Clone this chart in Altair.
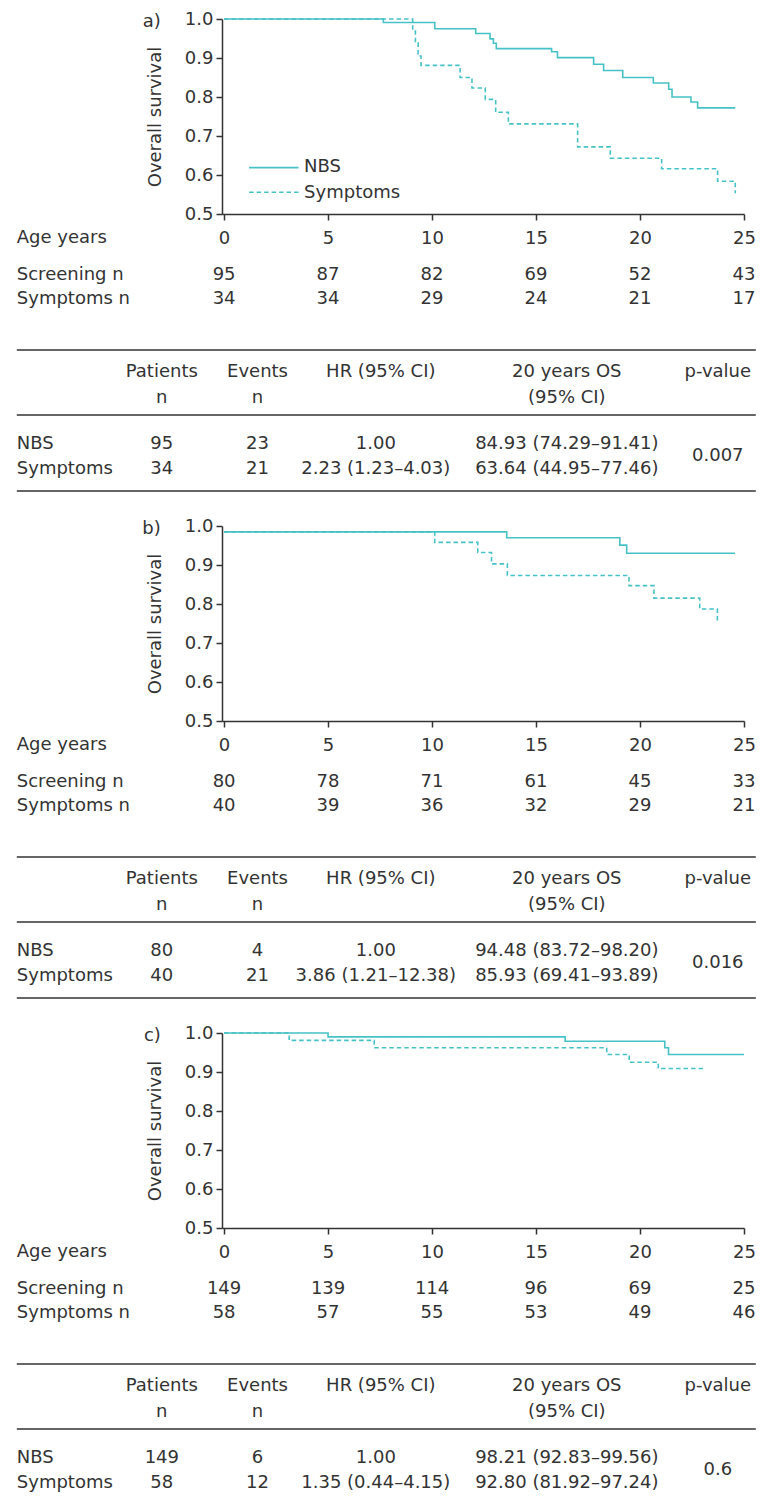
import altair as alt
import pandas as pd

# ---------------- data ----------------
YEARS = [0, 5, 10, 15, 20, 25]
SURV_TICKS = [0.5, 0.6, 0.7, 0.8, 0.9, 1.0]
GROUPS = ["NBS", "Symptoms"]
RISK_LABELS = ["Age years", "Screening n", "Symptoms n"]
HEAD_1 = ["Patients", "Events", "HR (95% CI)", "20 years OS", "p-value"]
HEAD_2 = ["n", "n", "", "(95% CI)", ""]
PANEL_TAGS = ["a)", "b)", "c)"]

# panel a
A_NBS_T = [0, 7.66, 10.13, 12.10, 12.79, 12.95, 13.09, 15.75, 16.03, 17.77, 18.25, 19.17, 20.64, 21.38, 21.54, 22.45, 22.77, 24.58]
A_NBS_S = [1.0, 0.991, 0.975, 0.963, 0.949, 0.938, 0.924, 0.916, 0.901, 0.884, 0.868, 0.850, 0.836, 0.820, 0.800, 0.787, 0.772, 0.772]
A_SYM_T = [0, 9.07, 9.20, 9.33, 9.47, 11.35, 11.92, 12.56, 13.06, 13.67, 17.00, 18.57, 21.04, 23.73, 24.58]
A_SYM_S = [1.0, 0.969, 0.939, 0.905, 0.881, 0.850, 0.823, 0.794, 0.761, 0.731, 0.672, 0.643, 0.616, 0.584, 0.553]
A_SCREEN_N = [95, 87, 82, 69, 52, 43]
A_SYMPT_N = [34, 34, 29, 24, 21, 17]
A_PATIENTS = ["95", "34"]
A_EVENTS = ["23", "21"]
A_HR = ["1.00", "2.23 (1.23–4.03)"]
A_OS = ["84.93 (74.29–91.41)", "63.64 (44.95–77.46)"]
A_P = "0.007"

# panel b
B_NBS_T = [0, 13.59, 19.03, 19.36, 24.57]
B_NBS_S = [0.985, 0.970, 0.951, 0.930, 0.930]
B_SYM_T = [0, 10.13, 12.20, 12.86, 13.62, 19.47, 20.67, 22.87, 23.72]
B_SYM_S = [0.985, 0.958, 0.932, 0.903, 0.873, 0.847, 0.815, 0.787, 0.750]
B_SCREEN_N = [80, 78, 71, 61, 45, 33]
B_SYMPT_N = [40, 39, 36, 32, 29, 21]
B_PATIENTS = ["80", "40"]
B_EVENTS = ["4", "21"]
B_HR = ["1.00", "3.86 (1.21–12.38)"]
B_OS = ["94.48 (83.72–98.20)", "85.93 (69.41–93.89)"]
B_P = "0.016"

# panel c
C_NBS_T = [0, 5.00, 16.40, 21.19, 21.37, 25.0]
C_NBS_S = [1.0, 0.990, 0.979, 0.962, 0.945, 0.945]
C_SYM_T = [0, 3.13, 7.22, 18.40, 19.48, 20.88, 23.05]
C_SYM_S = [1.0, 0.981, 0.962, 0.945, 0.925, 0.909, 0.909]
C_SCREEN_N = [149, 139, 114, 96, 69, 25]
C_SYMPT_N = [58, 57, 55, 53, 49, 46]
C_PATIENTS = ["149", "58"]
C_EVENTS = ["6", "12"]
C_HR = ["1.00", "1.35 (0.44–4.15)"]
C_OS = ["98.21 (92.83–99.56)", "92.80 (81.92–97.24)"]
C_P = "0.6"

# ---------------- style / layout ----------------
TEAL = "#46c2c7"
INK = "#333333"
FONT = "DejaVu Sans"
FS = 18
W, H = 522, 195

LEFT, RIGHT = -205.2, 533.8
COL_X = [-60.2, 35.5, 153.8, 344.8, 495.8]
HEAD_X = [-60.2, 35.5, 158.8, 344.8, 495.8]
Y_AGE, Y_SCR, Y_SYM = 219.3, 255.5, 279.5
Y_TOP, Y_H1, Y_H2, Y_MID = 331, 352.5, 378.5, 396
Y_ROWS = [424.5, 449.5]
Y_P, Y_BOT = 437, 472

ONE = pd.DataFrame({"k": [0]})

XSCALE = alt.Scale(domain=[-0.1, 25], nice=False, zero=False)
XAXIS = alt.Axis(values=YEARS, format="d", title=None, tickSize=6, labelPadding=18,
                 labelBaseline="middle", labelFlush=False, labelOverlap=False)


def x_enc():
    return alt.X("t:Q", scale=XSCALE, axis=XAXIS)


def txt(df, field, x, y, align="center", baseline="middle"):
    return alt.Chart(df).mark_text(
        align=align, baseline=baseline, font=FONT, fontSize=FS, color=INK
    ).encode(x=x, y=alt.value(y), text=alt.Text(f"{field}:N"))


def rule(y, x1=LEFT, x2=RIGHT, color=INK, width=1.5, dash=None):
    kw = dict(color=color, strokeWidth=width)
    if dash:
        kw["strokeDash"] = dash
    return alt.Chart(ONE).mark_rule(**kw).encode(
        x=alt.value(x1), x2=alt.value(x2), y=alt.value(y)
    )


def panel(tag, nbs_t, nbs_s, sym_t, sym_s, scr_n, sym_n, pats, evts, hrs, oss, pval, legend):
    curve = pd.DataFrame({
        "t": list(nbs_t) + list(sym_t),
        "s": list(nbs_s) + list(sym_s),
        "g": [GROUPS[0]] * len(nbs_t) + [GROUPS[1]] * len(sym_t),
    })
    y_enc = alt.Y(
        "s:Q",
        scale=alt.Scale(domain=[0.5, 1.0], nice=False, zero=False),
        axis=alt.Axis(values=SURV_TICKS, format=".1f", tickSize=6, labelPadding=3,
                      labelFlush=False, labelOverlap=False,
                      title="Overall survival", titleAngle=270, titleX=-61.2, titleY=H / 2,
                      titleAlign="center", titleBaseline="alphabetic"),
    )
    layers = [
        alt.Chart(curve).mark_line(interpolate="step-after", strokeWidth=1.6, color=TEAL).encode(
            x=x_enc(), y=y_enc,
            strokeDash=alt.StrokeDash("g:N", scale=alt.Scale(domain=GROUPS, range=[[1, 0], [4.5, 3]]),
                                      legend=None),
        )
    ]
    # panel tag
    layers.append(txt(pd.DataFrame({"tag": [tag]}), "tag", alt.value(-61.2), 8,
                      align="right", baseline="alphabetic"))
    # legend
    if legend:
        layers.append(rule(148.6, 27.1, 76.5, TEAL, 1.6))
        layers.append(rule(173.3, 27.1, 76.5, TEAL, 1.6, [4.5, 3]))
        layers.append(txt(pd.DataFrame({"g": [GROUPS[0]]}), "g", alt.value(82.1), 148.3, align="left"))
        layers.append(txt(pd.DataFrame({"g": [GROUPS[1]]}), "g", alt.value(82.1), 174, align="left"))
    # risk table
    risk = pd.DataFrame({"t": YEARS, "scr": [str(v) for v in scr_n], "sym": [str(v) for v in sym_n]})
    layers.append(txt(risk, "scr", x_enc(), Y_SCR))
    layers.append(txt(risk, "sym", x_enc(), Y_SYM))
    for lab, yy in zip(RISK_LABELS, [Y_AGE, Y_SCR, Y_SYM]):
        layers.append(txt(pd.DataFrame({"lab": [lab]}), "lab", alt.value(LEFT), yy, align="left"))
    # stats table
    for yy in [Y_TOP, Y_MID, Y_BOT]:
        layers.append(rule(yy))
    for j in range(len(HEAD_1)):
        layers.append(txt(pd.DataFrame({"h": [HEAD_1[j]]}), "h", alt.value(HEAD_X[j]), Y_H1))
        if HEAD_2[j]:
            layers.append(txt(pd.DataFrame({"h": [HEAD_2[j]]}), "h", alt.value(HEAD_X[j]), Y_H2))
    stats = pd.DataFrame({"g": GROUPS, "pat": pats, "evt": evts, "hr": hrs, "os": oss})
    for i in range(2):
        row = stats.iloc[[i]]
        layers.append(txt(row, "g", alt.value(LEFT), Y_ROWS[i], align="left"))
        for field, cx in zip(["pat", "evt", "hr", "os"], COL_X[:4]):
            layers.append(txt(row, field, alt.value(cx), Y_ROWS[i]))
    layers.append(txt(pd.DataFrame({"p": [pval]}), "p", alt.value(COL_X[4]), Y_P))
    return alt.layer(*layers).properties(width=W, height=H)


pa = panel(PANEL_TAGS[0], A_NBS_T, A_NBS_S, A_SYM_T, A_SYM_S, A_SCREEN_N, A_SYMPT_N,
           A_PATIENTS, A_EVENTS, A_HR, A_OS, A_P, True)
pb = panel(PANEL_TAGS[1], B_NBS_T, B_NBS_S, B_SYM_T, B_SYM_S, B_SCREEN_N, B_SYMPT_N,
           B_PATIENTS, B_EVENTS, B_HR, B_OS, B_P, False)
pc = panel(PANEL_TAGS[2], C_NBS_T, C_NBS_S, C_SYM_T, C_SYM_S, C_SCREEN_N, C_SYMPT_N,
           C_PATIENTS, C_EVENTS, C_HR, C_OS, C_P, False)

chart = (
    alt.vconcat(pa, pb, pc, spacing=312, bounds="flush")
    .properties(padding={"left": 8, "top": 2, "right": 0, "bottom": 0})
    .configure_view(stroke=None)
    .configure_axis(labelFont=FONT, labelFontSize=FS, labelColor=INK,
                    titleFont=FONT, titleFontSize=FS, titleColor=INK, titleFontWeight="normal",
                    domainColor=INK, tickColor=INK, domainWidth=1.5, tickWidth=1.5, grid=False)
)

chart.save("out.html", embed_options={"renderer": "svg", "actions": False})
